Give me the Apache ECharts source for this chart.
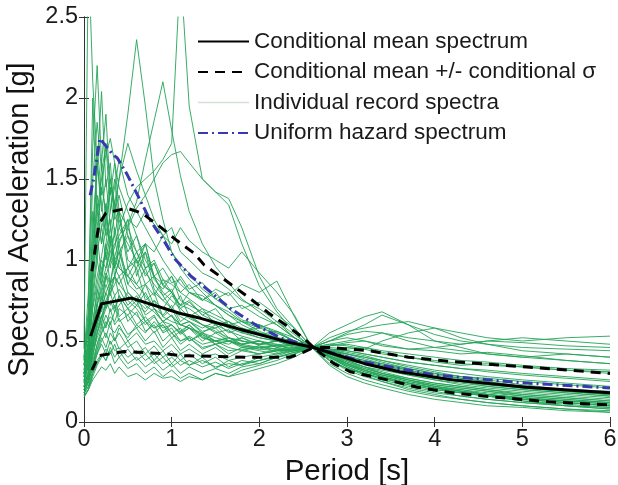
<!DOCTYPE html>
<html>
<head>
<meta charset="utf-8">
<script src="https://cdn.jsdelivr.net/npm/echarts@6/dist/echarts.min.js"></script>
<style>html,body{margin:0;padding:0;background:#fff}#c{width:618px;height:485px}</style>
</head>
<body>
<div id="c"></div>
<script>
// Periods [s] at which the individual record spectra are sampled
const periods = [0,0.05,0.1,0.15,0.2,0.25,0.3,0.35,0.4,0.5,0.6,0.7,0.8,0.9,1.0,1.1,1.2,1.35,1.5,1.65,1.8,2.0,2.2,2.4,2.6,2.8,3.0,3.2,3.4,3.7,4.0,4.3,4.6,5.0,5.5,6.0];

// Individual record spectra [g]
const records = [
  [0.45,2.9,2.1,1.6,1.35,1.15,1.25,0.95,0.9,0.75,0.7,0.62,0.58,0.62,0.55,0.5,0.53,0.48,0.5,0.46,0.44,0.47,0.43,0.45,0.46,0.41,0.37,0.34,0.32,0.29,0.26,0.24,0.22,0.2,0.18,0.16],
  [0.35,0.6,1.1,1.55,2.04,1.45,1.6,1.25,1.3,0.95,0.85,0.78,0.7,0.62,0.66,0.56,0.6,0.52,0.5,0.48,0.52,0.47,0.45,0.43,0.46,0.4,0.35,0.32,0.29,0.26,0.23,0.21,0.19,0.16,0.14,0.12],
  [0.3,0.42,0.72,0.9,1.02,1.2,1.1,1.3,1.5,1.9,2.36,1.95,1.5,1.25,1.05,0.97,0.92,0.82,0.76,0.7,0.63,0.6,0.55,0.5,0.46,0.41,0.36,0.32,0.29,0.25,0.22,0.2,0.17,0.15,0.13,0.11],
  [0.26,0.36,0.52,0.72,0.82,0.92,0.86,1.02,1.12,1.22,1.36,1.62,1.86,2.1,1.8,1.52,1.3,1.1,0.96,0.86,0.76,0.68,0.6,0.52,0.46,0.45,0.43,0.41,0.38,0.34,0.31,0.28,0.26,0.23,0.2,0.18],
  [0.22,0.3,0.46,0.62,0.76,0.9,1.0,1.08,1.2,1.35,1.45,1.5,1.55,1.62,1.72,2.8,1.95,1.5,1.42,1.34,1.1,0.84,0.68,0.55,0.46,0.5,0.55,0.6,0.66,0.6,0.54,0.5,0.48,0.46,0.45,0.44],
  [0.3,0.36,0.5,0.6,0.7,0.8,0.86,0.9,1.0,1.2,1.32,1.4,1.5,1.6,1.65,1.67,1.6,1.5,1.42,1.38,1.2,0.9,0.7,0.58,0.46,0.44,0.42,0.4,0.38,0.35,0.32,0.3,0.28,0.26,0.24,0.22],
  [0.4,0.55,0.9,1.3,1.5,1.65,1.75,1.6,1.45,1.3,1.15,1.0,0.9,0.8,0.75,0.7,0.65,0.6,0.56,0.52,0.5,0.48,0.47,0.46,0.46,0.44,0.4,0.37,0.35,0.32,0.28,0.26,0.24,0.21,0.19,0.17],
  [0.32,0.5,0.95,1.7,1.4,1.72,1.3,1.5,1.2,1.1,1.0,0.92,0.85,0.78,0.7,0.65,0.62,0.56,0.58,0.5,0.48,0.5,0.46,0.44,0.46,0.38,0.33,0.3,0.27,0.23,0.2,0.18,0.16,0.14,0.12,0.1],
  [0.28,0.45,1.3,1.0,1.6,1.2,1.45,1.35,1.1,1.25,0.9,1.05,0.82,0.75,0.8,0.68,0.64,0.6,0.55,0.57,0.5,0.48,0.5,0.46,0.46,0.48,0.5,0.52,0.55,0.5,0.46,0.44,0.42,0.4,0.42,0.4],
  [0.38,0.7,2.0,1.3,1.1,1.35,1.0,0.95,1.1,0.85,0.8,0.72,0.68,0.62,0.6,0.55,0.6,0.53,0.48,0.5,0.46,0.45,0.44,0.45,0.46,0.36,0.3,0.26,0.23,0.19,0.16,0.14,0.12,0.1,0.08,0.07],
  [0.3,0.38,0.6,0.8,0.95,1.05,1.2,1.35,1.5,1.72,1.55,1.4,1.25,1.15,1.05,0.95,0.88,0.8,0.72,0.66,0.6,0.55,0.52,0.48,0.46,0.42,0.38,0.36,0.34,0.3,0.27,0.25,0.23,0.21,0.19,0.17],
  [0.25,0.35,0.55,0.75,0.9,1.1,1.3,1.45,1.62,1.4,1.3,1.2,1.1,1.0,0.92,0.85,0.8,0.76,0.72,0.68,0.62,0.58,0.55,0.5,0.46,0.47,0.49,0.5,0.48,0.45,0.44,0.42,0.43,0.41,0.38,0.36],
  [0.25,0.32,0.5,0.65,0.8,0.9,0.85,1.0,0.95,0.9,0.85,0.95,0.8,0.75,0.7,0.78,0.65,0.7,0.6,0.62,0.55,0.6,0.52,0.5,0.46,0.45,0.42,0.39,0.36,0.32,0.29,0.27,0.25,0.22,0.2,0.18],
  [0.2,0.26,0.4,0.55,0.65,0.75,0.82,0.9,0.85,0.95,1.05,0.9,0.98,0.85,0.9,0.8,0.85,0.75,0.8,0.7,0.72,0.65,0.6,0.52,0.46,0.43,0.38,0.34,0.31,0.27,0.24,0.22,0.2,0.17,0.15,0.13],
  [0.3,0.4,0.7,0.85,1.0,0.95,1.1,0.9,1.0,0.8,0.75,0.7,0.75,0.65,0.62,0.6,0.58,0.55,0.6,0.52,0.5,0.48,0.5,0.47,0.46,0.52,0.56,0.58,0.6,0.62,0.58,0.55,0.52,0.5,0.52,0.53],
  [0.22,0.3,0.48,0.6,0.72,0.85,0.78,0.9,0.85,0.78,0.72,0.8,0.7,0.66,0.72,0.62,0.66,0.6,0.58,0.62,0.56,0.58,0.62,0.52,0.46,0.55,0.6,0.65,0.68,0.6,0.5,0.46,0.42,0.4,0.38,0.36],
  [0.2,0.28,0.42,0.55,0.62,0.7,0.75,0.68,0.78,0.7,0.66,0.6,0.65,0.58,0.6,0.55,0.58,0.52,0.5,0.52,0.48,0.5,0.47,0.48,0.46,0.44,0.46,0.45,0.5,0.55,0.58,0.52,0.48,0.44,0.42,0.4],
  [0.18,0.25,0.35,0.48,0.55,0.6,0.65,0.62,0.7,0.66,0.72,0.68,0.75,0.7,0.78,0.72,0.8,0.75,0.82,0.78,0.85,0.8,0.87,0.65,0.46,0.38,0.33,0.3,0.27,0.24,0.21,0.19,0.17,0.15,0.13,0.12],
  [0.28,0.36,0.6,0.72,0.68,0.8,0.72,0.78,0.65,0.7,0.6,0.65,0.58,0.6,0.55,0.58,0.5,0.55,0.5,0.52,0.48,0.5,0.46,0.48,0.46,0.4,0.35,0.31,0.28,0.24,0.21,0.19,0.17,0.14,0.12,0.1],
  [0.24,0.3,0.45,0.55,0.65,0.72,0.8,0.85,0.9,0.95,1.0,1.1,1.05,1.15,1.1,1.2,1.12,1.05,1.0,0.95,1.05,0.92,0.8,0.66,0.46,0.42,0.4,0.36,0.33,0.3,0.27,0.25,0.23,0.21,0.19,0.17],
  [0.22,0.3,0.55,0.7,0.6,0.75,0.68,0.72,0.62,0.66,0.58,0.62,0.55,0.6,0.52,0.56,0.5,0.54,0.48,0.5,0.47,0.45,0.48,0.44,0.46,0.5,0.52,0.5,0.47,0.45,0.46,0.48,0.5,0.49,0.47,0.46],
  [0.15,0.2,0.28,0.35,0.4,0.45,0.42,0.48,0.4,0.45,0.38,0.42,0.36,0.4,0.34,0.38,0.35,0.38,0.34,0.36,0.35,0.38,0.4,0.42,0.46,0.42,0.38,0.34,0.3,0.26,0.22,0.19,0.16,0.13,0.1,0.08],
  [0.18,0.22,0.32,0.42,0.5,0.55,0.48,0.52,0.45,0.5,0.42,0.46,0.38,0.44,0.36,0.42,0.35,0.4,0.33,0.38,0.35,0.4,0.42,0.44,0.46,0.38,0.32,0.28,0.25,0.2,0.17,0.14,0.12,0.1,0.08,0.06],
  [0.2,0.25,0.36,0.45,0.55,0.62,0.58,0.55,0.6,0.5,0.55,0.48,0.5,0.44,0.48,0.42,0.45,0.4,0.42,0.38,0.4,0.42,0.44,0.45,0.46,0.44,0.42,0.4,0.37,0.33,0.3,0.27,0.25,0.22,0.2,0.18],
  [0.16,0.2,0.26,0.3,0.34,0.32,0.36,0.3,0.34,0.28,0.3,0.26,0.3,0.27,0.28,0.25,0.28,0.26,0.3,0.28,0.32,0.35,0.38,0.42,0.46,0.45,0.44,0.42,0.4,0.37,0.35,0.33,0.32,0.3,0.28,0.26],
  [0.22,0.28,0.42,0.52,0.6,0.52,0.62,0.5,0.55,0.46,0.5,0.42,0.47,0.4,0.44,0.38,0.42,0.36,0.4,0.34,0.38,0.36,0.4,0.43,0.46,0.4,0.36,0.32,0.29,0.25,0.22,0.2,0.18,0.16,0.14,0.12],
  [0.17,0.22,0.3,0.38,0.42,0.38,0.44,0.36,0.4,0.33,0.36,0.3,0.34,0.28,0.32,0.27,0.3,0.26,0.3,0.28,0.3,0.33,0.36,0.4,0.46,0.5,0.54,0.56,0.55,0.52,0.5,0.48,0.5,0.52,0.5,0.48],
  [0.28,0.34,0.55,0.72,0.85,0.95,1.05,1.1,1.15,1.25,1.2,1.3,1.22,1.15,1.2,1.05,1.0,0.92,0.88,0.82,0.75,0.7,0.62,0.54,0.46,0.42,0.37,0.33,0.3,0.26,0.23,0.21,0.19,0.17,0.15,0.13],
  [0.35,0.6,1.0,1.4,1.2,1.3,1.1,1.15,0.95,0.9,0.82,0.85,0.72,0.7,0.65,0.6,0.58,0.54,0.5,0.5,0.47,0.46,0.45,0.44,0.46,0.43,0.4,0.38,0.36,0.33,0.3,0.28,0.27,0.25,0.23,0.21],
  [0.25,0.4,0.85,1.15,0.9,1.05,0.85,0.9,0.78,0.7,0.75,0.62,0.66,0.55,0.58,0.5,0.52,0.46,0.48,0.44,0.45,0.42,0.44,0.45,0.46,0.35,0.28,0.24,0.21,0.17,0.14,0.12,0.1,0.09,0.07,0.06],
  [0.3,0.5,1.2,1.6,1.3,1.5,1.2,1.0,1.05,0.85,0.95,0.75,0.8,0.65,0.7,0.6,0.62,0.55,0.52,0.5,0.48,0.46,0.47,0.45,0.46,0.41,0.36,0.32,0.28,0.24,0.21,0.18,0.16,0.14,0.12,0.1],
  [0.4,0.8,1.7,2.2,1.6,1.9,1.4,1.6,1.3,1.2,1.05,1.1,0.9,0.85,0.8,0.72,0.7,0.64,0.6,0.56,0.53,0.5,0.48,0.47,0.46,0.4,0.35,0.31,0.28,0.24,0.21,0.19,0.17,0.15,0.13,0.11],
  [0.3,0.45,0.8,1.05,1.2,1.0,1.15,0.95,1.05,0.9,1.0,0.85,0.9,0.78,0.82,0.7,0.74,0.66,0.7,0.6,0.62,0.56,0.52,0.5,0.46,0.44,0.41,0.38,0.35,0.31,0.28,0.26,0.24,0.21,0.19,0.17],
  [0.26,0.34,0.62,0.82,0.72,0.9,0.8,0.7,0.78,0.62,0.68,0.56,0.6,0.5,0.55,0.48,0.52,0.45,0.48,0.42,0.46,0.44,0.42,0.45,0.46,0.48,0.47,0.45,0.42,0.4,0.37,0.35,0.36,0.34,0.32,0.3],
  [0.22,0.28,0.46,0.58,0.66,0.58,0.7,0.6,0.64,0.54,0.58,0.5,0.56,0.46,0.52,0.44,0.48,0.42,0.46,0.4,0.44,0.42,0.45,0.46,0.46,0.42,0.39,0.36,0.33,0.29,0.26,0.23,0.21,0.19,0.17,0.15],
  [0.35,0.5,0.9,1.2,1.45,1.3,1.5,1.35,1.25,1.05,1.15,0.95,1.0,0.88,0.85,0.8,0.76,0.7,0.66,0.62,0.58,0.55,0.52,0.49,0.46,0.4,0.34,0.3,0.27,0.23,0.2,0.18,0.16,0.13,0.11,0.09],
  [0.2,0.26,0.38,0.48,0.58,0.66,0.6,0.68,0.72,0.8,0.74,0.85,0.78,0.88,0.8,0.9,0.82,0.86,0.76,0.8,0.7,0.74,0.66,0.58,0.46,0.46,0.45,0.46,0.44,0.42,0.4,0.38,0.37,0.35,0.33,0.32],
  [0.28,0.4,0.75,1.0,0.85,1.1,0.95,1.2,1.05,1.15,0.98,1.05,0.9,0.95,0.86,0.88,0.8,0.78,0.72,0.66,0.62,0.6,0.56,0.52,0.46,0.43,0.4,0.37,0.34,0.3,0.27,0.25,0.22,0.2,0.18,0.16],
  [0.18,0.24,0.34,0.44,0.52,0.46,0.55,0.5,0.58,0.52,0.6,0.55,0.62,0.56,0.6,0.54,0.58,0.5,0.55,0.5,0.52,0.48,0.5,0.47,0.46,0.4,0.34,0.3,0.26,0.22,0.19,0.16,0.14,0.12,0.1,0.08],
  [0.32,0.48,1.0,1.35,1.1,1.25,1.45,1.15,1.3,1.0,0.95,1.1,0.88,0.82,0.9,0.75,0.72,0.68,0.64,0.6,0.56,0.52,0.5,0.48,0.46,0.45,0.44,0.42,0.4,0.37,0.35,0.33,0.31,0.29,0.27,0.25],
  [0.24,0.3,0.5,0.62,0.78,0.7,0.85,0.78,0.82,0.72,0.78,0.66,0.7,0.62,0.66,0.6,0.62,0.58,0.62,0.55,0.58,0.54,0.56,0.5,0.46,0.41,0.36,0.33,0.3,0.27,0.24,0.22,0.2,0.18,0.16,0.14],
  [0.2,0.25,0.35,0.42,0.48,0.42,0.5,0.44,0.46,0.4,0.44,0.38,0.42,0.36,0.4,0.35,0.38,0.34,0.37,0.33,0.36,0.38,0.41,0.44,0.46,0.47,0.48,0.46,0.43,0.4,0.38,0.36,0.35,0.34,0.32,0.31],
  [0.38,0.65,1.5,1.85,1.55,1.7,1.5,1.3,1.4,1.15,1.05,0.95,0.98,0.84,0.8,0.72,0.75,0.66,0.62,0.58,0.55,0.52,0.5,0.48,0.46,0.39,0.33,0.29,0.25,0.21,0.18,0.16,0.14,0.12,0.1,0.09],
  [0.16,0.2,0.3,0.36,0.42,0.38,0.46,0.4,0.44,0.36,0.4,0.34,0.38,0.32,0.36,0.3,0.34,0.3,0.33,0.3,0.34,0.36,0.4,0.43,0.46,0.43,0.4,0.37,0.34,0.3,0.27,0.25,0.24,0.22,0.2,0.19]
];

// Conditional mean spectrum
const meanT  = [0.076,0.2,0.3,0.54,1.1,1.33,1.86,2.35,2.62,2.85,3.2,3.6,4.2,5.05,6.0];
const meanSA = [0.53,0.73,0.74,0.765,0.67,0.64,0.56,0.49,0.46,0.42,0.36,0.31,0.26,0.215,0.18];

// Conditional mean + conditional sigma
const upT  = [0.09,0.17,0.25,0.49,0.66,0.88,1.06,1.26,1.37,1.55,1.9,2.1,2.35,2.5,2.62,2.8,3.25,3.7,4.15,5.05,6.0];
const upSA = [0.93,1.22,1.29,1.32,1.29,1.2,1.12,1.04,0.97,0.9,0.76,0.675,0.58,0.52,0.46,0.46,0.44,0.40,0.375,0.34,0.30];

// Conditional mean - conditional sigma
const loT  = [0.09,0.17,0.46,0.95,1.1,1.86,2.35,2.5,2.62,2.85,3.04,3.46,3.8,4.2,4.55,5.3,6.0];
const loSA = [0.32,0.41,0.435,0.42,0.41,0.40,0.40,0.43,0.46,0.36,0.31,0.26,0.215,0.18,0.16,0.125,0.105];

// Uniform hazard spectrum
const uhsT  = [0.07,0.11,0.18,0.33,0.38,0.49,0.63,0.76,0.91,1.03,1.22,1.36,1.67,1.97,2.24,2.62,3.2,4.0,5.05,6.0];
const uhsSA = [1.40,1.50,1.75,1.65,1.63,1.53,1.38,1.24,1.12,1.01,0.90,0.84,0.70,0.595,0.52,0.46,0.37,0.29,0.24,0.21];

const xTicks = [0,1,2,3,4,5,6];
const yTicks = [0,0.5,1,1.5,2,2.5];

const names = {
  mean: 'Conditional mean spectrum',
  sig: 'Conditional mean +/- conditional σ',
  rec: 'Individual record spectra',
  uhs: 'Uniform hazard spectrum'
};

const zip = (a, b) => a.map((v, i) => [v, b[i]]);
const FONT = '"Liberation Sans", Arial, Helvetica, sans-serif';

const series = [];
records.forEach(r => {
  series.push({
    name: names.rec, type: 'line', symbol: 'none', silent: true, animation: false,
    data: zip(periods, r),
    lineStyle: { color: 'rgb(36,164,88)', width: 1, opacity: 0.9 },
    z: 2
  });
});
series.push({ name: names.mean, type: 'line', symbol: 'none', animation: false,
  data: zip(meanT, meanSA), lineStyle: { color: '#000', width: 3 }, z: 5 });
series.push({ name: names.sig, type: 'line', symbol: 'none', animation: false,
  data: zip(upT, upSA), lineStyle: { color: '#000', width: 3, type: [10, 7] }, z: 5 });
series.push({ name: names.sig, type: 'line', symbol: 'none', animation: false,
  data: zip(loT, loSA), lineStyle: { color: '#000', width: 3, type: [10, 7] }, z: 5 });
series.push({ name: names.uhs, type: 'line', symbol: 'none', animation: false,
  data: zip(uhsT, uhsSA), lineStyle: { color: '#3838b0', width: 3, type: [10, 4, 2, 4] }, z: 4 });

const chart = echarts.init(document.getElementById('c'), null, { renderer: 'canvas' });
chart.setOption({
  backgroundColor: '#fff',
  animation: false,
  grid: { left: 84, right: 8, top: 17, bottom: 63, containLabel: false, outerBoundsMode: 'none' },
  legend: {
    orient: 'vertical', left: 197, top: 30, padding: 0,
    itemWidth: 51, itemHeight: 14, itemGap: 7.5,
    itemStyle: { opacity: 0 },
    textStyle: { fontFamily: FONT, fontSize: 22.5, color: '#1a1a1a', lineHeight: 22 },
    data: [
      { name: names.mean },
      { name: names.sig },
      { name: names.rec, lineStyle: { color: '#d3e0d3', width: 1.5, opacity: 1 } },
      { name: names.uhs }
    ],
    selectedMode: false
  },
  xAxis: [
    {
      type: 'value', min: xTicks[0], max: xTicks[xTicks.length - 1], interval: 1,
      name: 'Period [s]', nameLocation: 'middle', nameGap: 33,
      nameTextStyle: { fontFamily: FONT, fontSize: 29.5, color: '#111' },
      axisLine: { show: true, lineStyle: { color: '#333', width: 1 } },
      axisTick: { show: true, inside: true, length: 5, lineStyle: { color: '#333' } },
      axisLabel: { fontFamily: FONT, fontSize: 23.5, color: '#1a1a1a', margin: 6 },
      splitLine: { show: false }
    },
    {
      type: 'value', position: 'top', min: 0, max: 6, interval: 1,
      axisLine: { show: true, lineStyle: { color: '#333', width: 1 } },
      axisTick: { show: true, inside: true, length: 5, lineStyle: { color: '#333' } },
      axisLabel: { show: false }, splitLine: { show: false }
    }
  ],
  yAxis: [
    {
      type: 'value', min: yTicks[0], max: yTicks[yTicks.length - 1], interval: 0.5,
      name: 'Spectral Acceleration [g]', nameLocation: 'middle', nameGap: 42, nameRotate: 90,
      nameTextStyle: { fontFamily: FONT, fontSize: 29, color: '#111' },
      axisLine: { show: true, lineStyle: { color: '#333', width: 1 } },
      axisTick: { show: true, inside: true, length: 5, lineStyle: { color: '#333' } },
      axisLabel: { fontFamily: FONT, fontSize: 23.5, color: '#1a1a1a', margin: 6 },
      splitLine: { show: false }
    },
    {
      type: 'value', position: 'right', min: 0, max: 2.5, interval: 0.5,
      axisLine: { show: true, lineStyle: { color: '#333', width: 1 } },
      axisTick: { show: true, inside: true, length: 5, lineStyle: { color: '#333' } },
      axisLabel: { show: false }, splitLine: { show: false }
    }
  ],
  series: series
});
</script>
</body>
</html>
